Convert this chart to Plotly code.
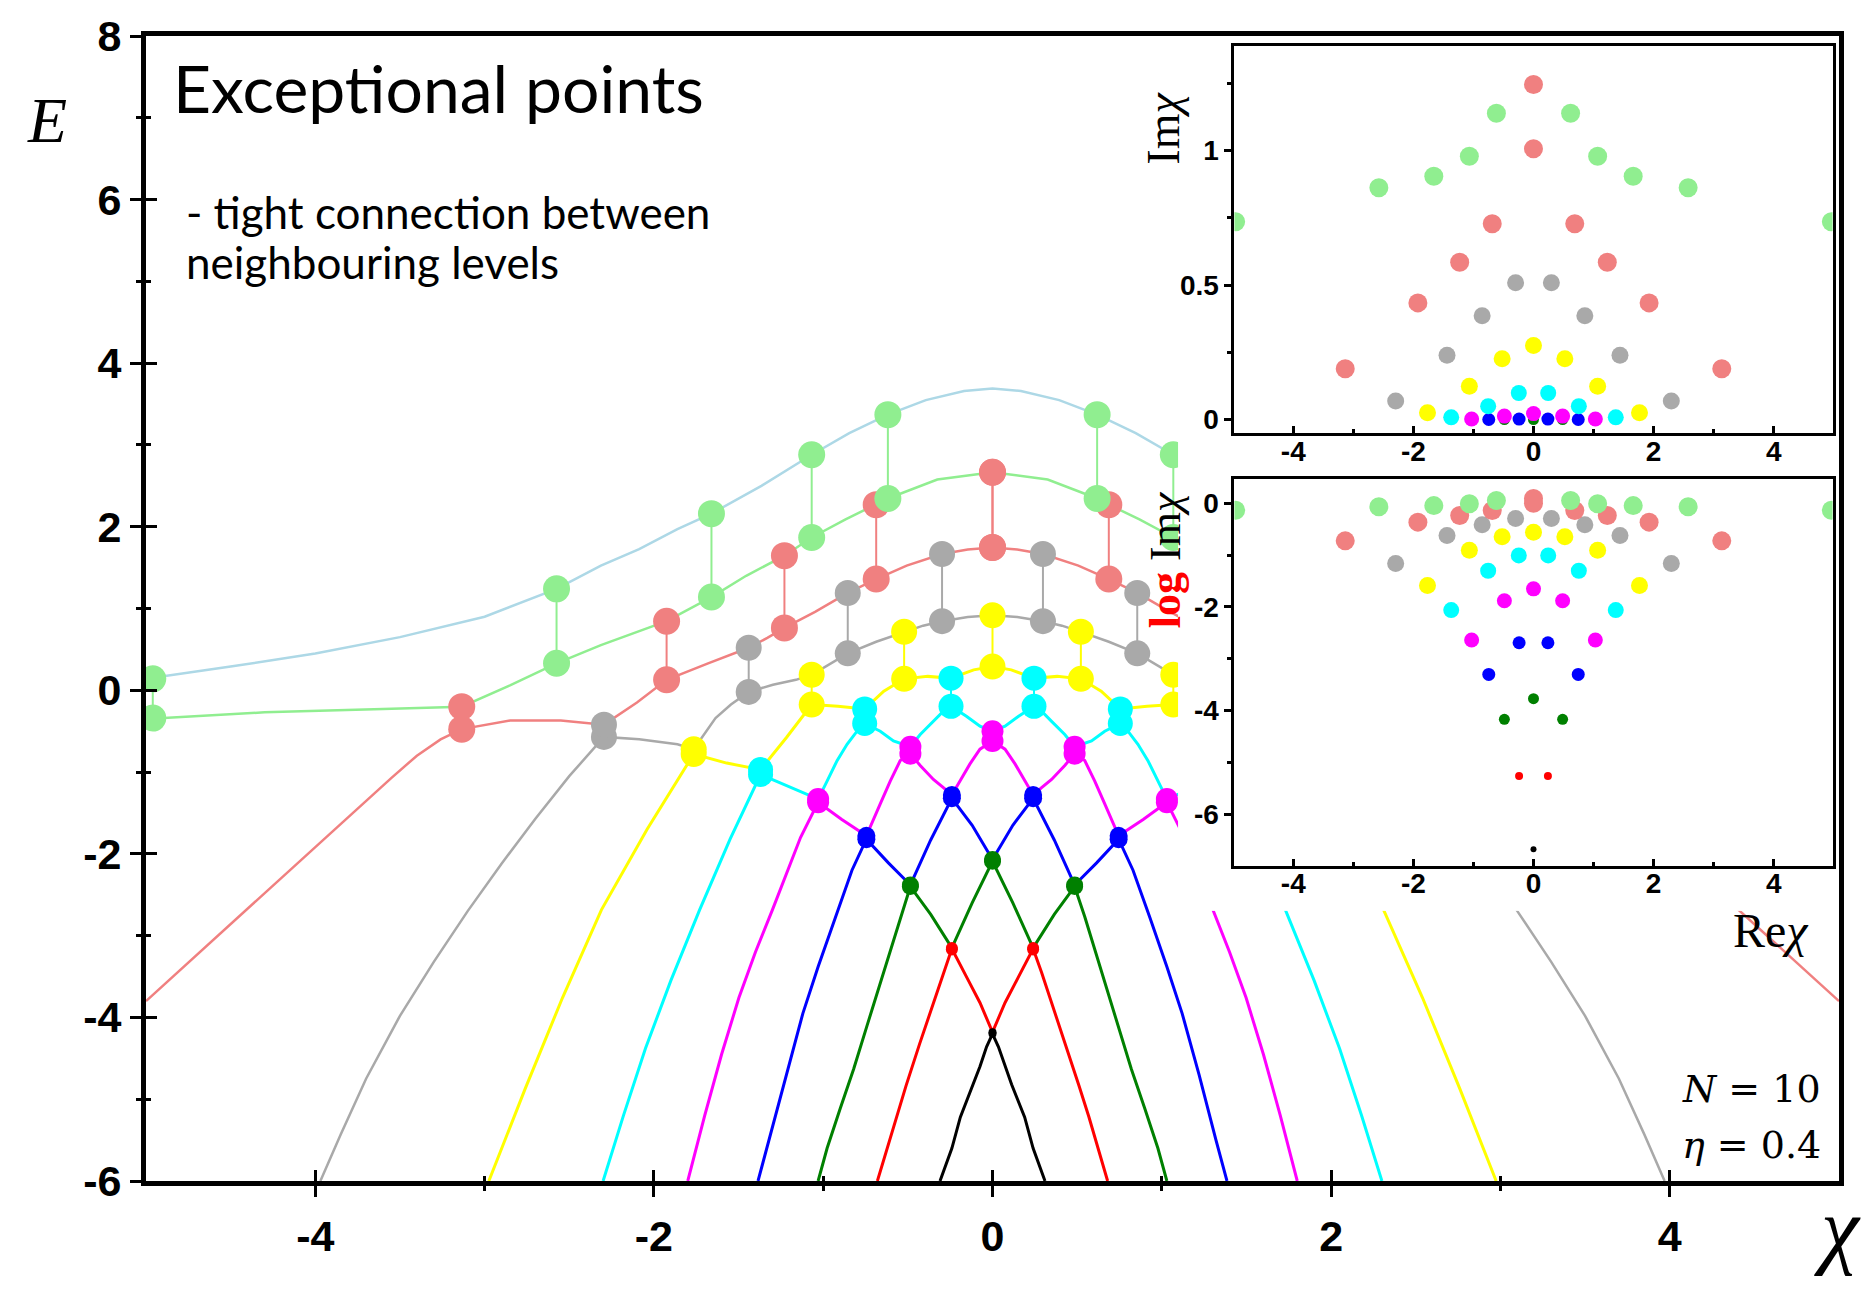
import plotly.graph_objects as go

# ---------------------------------------------------------------
# Spectrum E(chi) for N = 10, eta = 0.4 : eleven levels, lowest first
# ---------------------------------------------------------------
LEVEL_COLORS = ["#000000", "#ff0000", "#008000", "#0000ff", "#ff00ff", "#00ffff",
                "#ffff00", "#a9a9a9", "#f08080", "#90ee90", "#add8e6"]
LEVEL_WIDTH = [3, 3, 3, 3, 3, 3, 3, 2.5, 2.5, 2.5, 2.5]

chi_0 = [-0.31, -0.24, -0.19, -0.113, -0.074, -0.035, 0.0, 0.035, 0.074, 0.113, 0.19, 0.24, 0.31]
e_0 = [-6.0, -5.6, -5.22, -4.82, -4.6, -4.36, -4.2, -4.36, -4.6, -4.82, -5.22, -5.6, -6.0]

chi_1 = [-0.68, -0.623, -0.57, -0.51, -0.43, -0.35, -0.29, -0.24, -0.152, -0.074, 0.0,
         0.074, 0.152, 0.24, 0.29, 0.35, 0.43, 0.51, 0.57, 0.623, 0.68]
e_1 = [-6.0, -5.6, -5.22, -4.83, -4.32, -3.82, -3.45, -3.16, -3.51, -3.82, -4.18,
       -3.82, -3.51, -3.16, -3.45, -3.82, -4.32, -4.83, -5.22, -5.6, -6.0]

chi_2 = [-1.03, -0.977, -0.899, -0.82, -0.741, -0.663, -0.604, -0.545, -0.485, -0.365, -0.24, -0.12, 0.0,
         0.12, 0.24, 0.365, 0.485, 0.545, 0.604, 0.663, 0.741, 0.82, 0.899, 0.977, 1.03]
e_2 = [-6.0, -5.6, -5.11, -4.63, -4.10, -3.58, -3.17, -2.77, -2.40, -2.74, -3.15, -2.60, -2.09,
       -2.60, -3.15, -2.74, -2.40, -2.77, -3.17, -3.58, -4.10, -4.63, -5.11, -5.6, -6.0]

chi_3 = [-1.385, -1.32, -1.22, -1.12, -1.03, -0.93, -0.83, -0.745, -0.615, -0.485, -0.365, -0.24, -0.12, 0.0,
         0.12, 0.24, 0.365, 0.485, 0.615, 0.745, 0.83, 0.93, 1.03, 1.12, 1.22, 1.32, 1.385]
e_3 = [-6.0, -5.5, -4.7, -3.95, -3.38, -2.78, -2.2, -1.82, -2.11, -2.38, -1.83, -1.32, -1.65, -2.07,
       -1.65, -1.32, -1.83, -2.38, -2.11, -1.82, -2.2, -2.78, -3.38, -3.95, -4.7, -5.5, -6.0]

chi_4 = [-1.80, -1.70, -1.60, -1.498, -1.40, -1.30, -1.134, -1.03, -0.89, -0.745, -0.663, -0.604,
         -0.545, -0.485, -0.427, -0.349, -0.29, -0.24, -0.192, -0.133, -0.074, 0.0,
         0.074, 0.133, 0.192, 0.24, 0.29, 0.349, 0.427, 0.485, 0.545,
         0.604, 0.663, 0.745, 0.89, 1.03, 1.134, 1.30, 1.40, 1.498, 1.60, 1.70, 1.80]
e_4 = [-6.0, -5.2, -4.45, -3.76, -3.2, -2.685, -1.80, -1.37, -1.58, -1.78, -1.39, -1.11,
       -0.86, -0.775, -0.92, -1.09, -1.19, -1.28, -1.11, -0.90, -0.72, -0.62,
       -0.72, -0.90, -1.11, -1.28, -1.19, -1.09, -0.92, -0.775, -0.86,
       -1.11, -1.39, -1.78, -1.58, -1.37, -1.80, -2.685, -3.2, -3.76, -4.45, -5.2, -6.0]

chi_5 = [-2.30, -2.18, -2.05, -1.90, -1.73, -1.55, -1.37, -1.2, -1.03, -0.977, -0.918, -0.859, -0.80,
         -0.755, -0.663, -0.585, -0.485, -0.427, -0.349, -0.29, -0.245, -0.152, -0.074, 0.0,
         0.074, 0.152, 0.245, 0.29, 0.349, 0.427, 0.485, 0.585, 0.663, 0.755,
         0.80, 0.859, 0.918, 0.977, 1.03, 1.2, 1.37, 1.55, 1.73, 1.90, 2.05, 2.18, 2.30]
e_5 = [-6.0, -5.2, -4.38, -3.55, -2.685, -1.82, -1.03, -1.18, -1.33, -1.11, -0.86, -0.66, -0.50,
       -0.406, -0.50, -0.62, -0.69, -0.54, -0.38, -0.256, -0.196, -0.32, -0.44, -0.50,
       -0.44, -0.32, -0.196, -0.256, -0.38, -0.54, -0.69, -0.62, -0.50, -0.406,
       -0.50, -0.66, -0.86, -1.11, -1.33, -1.18, -1.03, -1.82, -2.685, -3.55, -4.38, -5.2, -6.0]

chi_6 = [-2.975, -2.76, -2.54, -2.31, -2.04, -1.765, -1.57, -1.37, -1.218, -1.068, -0.913, -0.755,
         -0.642, -0.522, -0.382, -0.245, -0.111, 0.0,
         0.111, 0.245, 0.382, 0.522, 0.642, 0.755, 0.913, 1.068, 1.218, 1.37, 1.57, 1.765,
         2.04, 2.31, 2.54, 2.76, 2.975]
e_6 = [-6.0, -4.87, -3.76, -2.685, -1.70, -0.78, -0.89, -0.97, -0.58, -0.175, -0.196, -0.228,
       -0.01, 0.14, 0.17, 0.148, 0.25, 0.29,
       0.25, 0.148, 0.17, 0.14, -0.01, -0.228, -0.196, -0.175, -0.58, -0.97, -0.89, -0.78,
       -1.70, -2.685, -3.76, -4.87, -6.0]

chi_7 = [-3.97, -3.85, -3.7, -3.5, -3.3, -3.1, -2.9, -2.7, -2.5, -2.295, -2.087, -1.861,
         -1.765, -1.636, -1.545, -1.44, -1.297, -1.161, -1.068, -0.96, -0.855, -0.687, -0.522,
         -0.41, -0.298, -0.146, 0.0, 0.146, 0.298, 0.41, 0.522, 0.687, 0.855, 0.96, 1.068,
         1.161, 1.297, 1.44, 1.545, 1.636, 1.765, 1.861, 2.087, 2.295, 2.5, 2.7, 2.9, 3.1,
         3.3, 3.5, 3.7, 3.85, 3.97]
e_7 = [-6.0, -5.43, -4.75, -3.98, -3.32, -2.7, -2.12, -1.57, -1.05, -0.57, -0.60, -0.66,
       -0.72, -0.34, -0.175, -0.02, 0.068, 0.128, 0.19, 0.32, 0.452, 0.593, 0.715,
       0.79, 0.845, 0.897, 0.918, 0.897, 0.845, 0.79, 0.715, 0.593, 0.452, 0.32, 0.19,
       0.128, 0.068, -0.02, -0.175, -0.34, -0.72, -0.66, -0.60, -0.57, -1.05, -1.57, -2.12, -2.7,
       -3.32, -3.98, -4.75, -5.43, -6.0]

chi_8 = [-5.0, -4.5, -4.0, -3.75, -3.55, -3.4, -3.26, -3.135, -2.85, -2.55, -2.295, -2.1, -1.925,
         -1.68, -1.44, -1.33, -1.229, -1.048, -0.855, -0.687, -0.507, -0.298, -0.146, 0.0,
         0.146, 0.298, 0.507, 0.687, 0.855, 1.048, 1.229, 1.33, 1.44, 1.68, 1.925, 2.1,
         2.295, 2.55, 2.85, 3.135, 3.26, 3.4, 3.55, 3.75, 4.0, 4.5, 5.0]
e_8 = [-3.80, -2.86, -1.92, -1.44, -1.07, -0.80, -0.60, -0.475, -0.37, -0.37, -0.42, -0.15, 0.128,
       0.33, 0.52, 0.64, 0.763, 0.958, 1.19, 1.36, 1.525, 1.666, 1.72, 1.747,
       1.72, 1.666, 1.525, 1.36, 1.19, 0.958, 0.763, 0.64, 0.52, 0.33, 0.128, -0.15,
       -0.42, -0.37, -0.37, -0.475, -0.60, -0.80, -1.07, -1.44, -1.92, -2.86, -3.80]

chi_9 = [-5.0, -4.3, -3.6, -3.135, -2.85, -2.575, -2.313, -1.925, -1.66, -1.455, -1.229, -1.068,
         -0.868, -0.687, -0.618, -0.326, 0.0, 0.326, 0.618, 0.687, 0.868, 1.068, 1.229, 1.455,
         1.66, 1.925, 2.313, 2.575, 2.85, 3.135, 3.6, 4.3, 5.0]
e_9 = [-0.35, -0.27, -0.23, -0.20, 0.06, 0.33, 0.553, 0.845, 1.14, 1.40, 1.646, 1.868,
       2.09, 2.27, 2.345, 2.577, 2.666, 2.577, 2.345, 2.27, 2.09, 1.868, 1.646, 1.40,
       1.14, 0.845, 0.553, 0.33, 0.06, -0.20, -0.23, -0.27, -0.35]

chi_10 = [-5.0, -4.5, -4.0, -3.5, -3.0, -2.575, -2.313, -2.087, -1.861, -1.66, -1.365, -1.068,
          -0.846, -0.618, -0.394, -0.168, 0.0, 0.168, 0.394, 0.618, 0.846, 1.068, 1.365, 1.66,
          1.861, 2.087, 2.313, 2.575, 3.0, 3.5, 4.0, 4.5, 5.0]
e_10 = [0.14, 0.29, 0.45, 0.65, 0.90, 1.24, 1.525, 1.727, 1.97, 2.16, 2.50, 2.88,
        3.143, 3.37, 3.548, 3.66, 3.69, 3.66, 3.548, 3.37, 3.143, 2.88, 2.50, 2.16,
        1.97, 1.727, 1.525, 1.24, 0.90, 0.65, 0.45, 0.29, 0.14]

LEVEL_CHI = [chi_0, chi_1, chi_2, chi_3, chi_4, chi_5, chi_6, chi_7, chi_8, chi_9, chi_10]
LEVEL_E = [e_0, e_1, e_2, e_3, e_4, e_5, e_6, e_7, e_8, e_9, e_10]

# ---------------------------------------------------------------
# Exceptional points: lower level index, Re chi, Im chi and the two
# real-chi energies (lower / upper level) they connect
# ---------------------------------------------------------------
ep_level = [0,
            1, 1,
            2, 2, 2,
            3, 3, 3, 3,
            4, 4, 4, 4, 4,
            5, 5, 5, 5, 5, 5,
            6, 6, 6, 6, 6, 6, 6,
            7, 7, 7, 7, 7, 7, 7, 7,
            8, 8, 8, 8, 8, 8, 8, 8, 8, 8,
            9, 9, 9, 9, 9, 9, 9, 9, 9, 9]
ep_re = [0.0,
         -0.24, 0.24,
         -0.485, 0.0, 0.485,
         -0.745, -0.24, 0.24, 0.745,
         -1.03, -0.485, 0.0, 0.485, 1.03,
         -1.37, -0.755, -0.245, 0.245, 0.755, 1.37,
         -1.765, -1.068, -0.522, 0.0, 0.522, 1.068, 1.765,
         -2.295, -1.44, -0.855, -0.298, 0.298, 0.855, 1.44, 2.295,
         -3.135, -1.925, -1.229, -0.687, 0.0, 0.0, 0.687, 1.229, 1.925, 3.135,
         -4.96, -2.575, -1.66, -1.068, -0.618, 0.618, 1.068, 1.66, 2.575, 4.96]
ep_im = [2.1e-7,
         5.5e-6, 5.5e-6,
         6.8e-5, 1.7e-4, 6.8e-5,
         5.0e-4, 2.04e-3, 2.04e-3, 5.0e-4,
         2.3e-3, 0.0132, 0.0224, 0.0132, 2.3e-3,
         0.0087, 0.050, 0.099, 0.099, 0.050, 0.0087,
         0.026, 0.124, 0.226, 0.276, 0.226, 0.124, 0.026,
         0.069, 0.239, 0.386, 0.509, 0.509, 0.386, 0.239, 0.069,
         0.189, 0.434, 0.585, 0.728, 1.007, 1.246, 0.728, 0.585, 0.434, 0.189,
         0.736, 0.862, 0.905, 0.979, 1.139, 1.139, 0.979, 0.905, 0.862, 0.736]
ep_e_low = [-4.20,
            -3.17, -3.17,
            -2.40, -2.09, -2.40,
            -1.82, -1.32, -1.32, -1.82,
            -1.37, -0.775, -0.62, -0.775, -1.37,
            -1.03, -0.406, -0.196, -0.196, -0.406, -1.03,
            -0.78, -0.175, 0.14, 0.29, 0.14, -0.175, -0.78,
            -0.57, -0.02, 0.452, 0.845, 0.845, 0.452, -0.02, -0.57,
            -0.475, 0.128, 0.763, 1.36, 1.747, 1.747, 1.36, 0.763, 0.128, -0.475,
            -0.34, 0.33, 1.14, 1.868, 2.345, 2.345, 1.868, 1.14, 0.33, -0.34]
ep_e_high = [-4.18,
             -3.15, -3.15,
             -2.38, -2.07, -2.38,
             -1.78, -1.28, -1.28, -1.78,
             -1.33, -0.69, -0.50, -0.69, -1.33,
             -0.97, -0.228, 0.148, 0.148, -0.228, -0.97,
             -0.72, 0.19, 0.715, 0.918, 0.715, 0.19, -0.72,
             -0.42, 0.52, 1.19, 1.666, 1.666, 1.19, 0.52, -0.42,
             -0.20, 0.845, 1.646, 2.27, 2.666, 2.666, 2.27, 1.646, 0.845, -0.20,
             0.14, 1.24, 2.16, 2.88, 3.37, 3.37, 2.88, 2.16, 1.24, 0.14]

MAIN_MARKER = [8, 12, 17, 18, 22, 25, 26, 26, 27, 27]
INSET_MARKER = [6, 8, 11, 13, 15, 16, 17, 17, 19, 19]

# axis ticks
E_TICKS = [-6, -4, -2, 0, 2, 4, 6, 8]
E_TICKTEXT = ["-6", "-4", "-2", "0", "2", "4", "6", "8"]
E_MINOR = [-5, -3, -1, 1, 3, 5, 7]
CHI_TICKS = [-4, -2, 0, 2, 4]
CHI_TICKTEXT = ["-4", "-2", "0", "2", "4"]
CHI_MINOR = [-3, -1, 1, 3]
IM_TICKS = [0, 0.5, 1]
IM_TICKTEXT = ["0", "0.5", "1"]
IM_MINOR = [0.25, 0.75, 1.25]
LOGIM_TICKS = [1, 1e-2, 1e-4, 1e-6]
LOGIM_TICKTEXT = ["0", "-2", "-4", "-6"]
LOGIM_MINOR = [1e-1, 1e-3, 1e-5]

fig = go.Figure()

# energy levels
for k in range(len(LEVEL_CHI)):
    fig.add_trace(go.Scatter(x=LEVEL_CHI[k], y=LEVEL_E[k], mode="lines",
                             line=dict(color=LEVEL_COLORS[k], width=LEVEL_WIDTH[k]),
                             xaxis="x", yaxis="y", hoverinfo="skip", showlegend=False))

# exceptional points on the real axis, joined between the two levels
for k in range(10):
    xs, ys = [], []
    for i in range(len(ep_re)):
        if ep_level[i] == k:
            xs += [ep_re[i], ep_re[i], None]
            ys += [ep_e_low[i], ep_e_high[i], None]
    fig.add_trace(go.Scatter(x=xs, y=ys, mode="lines+markers",
                             line=dict(color=LEVEL_COLORS[k], width=2),
                             marker=dict(color=LEVEL_COLORS[k], size=MAIN_MARKER[k]),
                             xaxis="x", yaxis="y", hoverinfo="skip", showlegend=False))

# white panel behind the insets
fig.add_trace(go.Scatter(x=[None], y=[None], xaxis="x2", yaxis="y2", showlegend=False))

# insets: Im chi and log Im chi against Re chi
for k in range(10):
    xs = [ep_re[i] for i in range(len(ep_re)) if ep_level[i] == k]
    ims = [ep_im[i] for i in range(len(ep_re)) if ep_level[i] == k]
    fig.add_trace(go.Scatter(x=xs, y=ims, mode="markers",
                             marker=dict(color=LEVEL_COLORS[k], size=INSET_MARKER[k]),
                             xaxis="x3", yaxis="y3", hoverinfo="skip", showlegend=False))
    fig.add_trace(go.Scatter(x=xs, y=ims, mode="markers",
                             marker=dict(color=LEVEL_COLORS[k], size=INSET_MARKER[k]),
                             xaxis="x4", yaxis="y4", hoverinfo="skip", showlegend=False))

# companion axes carrying the inner halves of the main ticks
fig.add_trace(go.Scatter(x=[None], y=[None], xaxis="x5", yaxis="y", showlegend=False))
fig.add_trace(go.Scatter(x=[None], y=[None], xaxis="x", yaxis="y5", showlegend=False))

BIG_TICK = dict(family="Liberation Sans, Arial, sans-serif", size=43, color="black", weight="bold")
SMALL_TICK = dict(family="Liberation Sans, Arial, sans-serif", size=28, color="black", weight="bold")

main_common = dict(showline=True, linewidth=5, linecolor="black", mirror=True,
                   ticks="outside", ticklen=11, tickwidth=3, tickcolor="black",
                   showgrid=False, zeroline=False, tickfont=BIG_TICK)
inner_common = dict(showline=False, ticks="inside", ticklen=11, tickwidth=3, tickcolor="black",
                    showticklabels=False, showgrid=False, zeroline=False)
inset_common = dict(showline=True, linewidth=3, linecolor="black", mirror=True,
                    ticklen=7, tickwidth=3, tickcolor="black",
                    showgrid=False, zeroline=False, tickfont=SMALL_TICK)
hidden = dict(showline=False, showticklabels=False, ticks="", showgrid=False, zeroline=False)

X_RANGE = [-5, 5]
Y_RANGE = [-6, 8]

fig.update_layout(
    width=1863, height=1298,
    margin=dict(l=146, r=24, t=32, b=117),
    paper_bgcolor="white", plot_bgcolor="white",
    showlegend=False,
    xaxis=dict(domain=[0, 1], range=X_RANGE, anchor="y", tickvals=CHI_TICKS, ticktext=CHI_TICKTEXT,
               minor=dict(tickvals=CHI_MINOR, ticks="outside", ticklen=5, tickwidth=3, tickcolor="black"),
               ticklabelstandoff=2, **main_common),
    yaxis=dict(domain=[0, 1], range=Y_RANGE, anchor="x", tickvals=E_TICKS, ticktext=E_TICKTEXT,
               minor=dict(tickvals=E_MINOR, ticks="outside", ticklen=5, tickwidth=3, tickcolor="black"),
               **main_common),
    xaxis5=dict(overlaying="x", anchor="y", side="bottom", range=X_RANGE, tickvals=CHI_TICKS,
                minor=dict(tickvals=CHI_MINOR, ticks="inside", ticklen=5, tickwidth=3, tickcolor="black"),
                **inner_common),
    yaxis5=dict(overlaying="y", anchor="x", side="left", range=Y_RANGE, tickvals=E_TICKS,
                minor=dict(tickvals=E_MINOR, ticks="inside", ticklen=5, tickwidth=3, tickcolor="black"),
                **inner_common),
    xaxis2=dict(domain=[0.6096, 1.0], anchor="y2", range=[0, 1], **hidden),
    yaxis2=dict(domain=[0.2359, 1.0], anchor="x2", range=[0, 1], **hidden),
    xaxis3=dict(domain=[0.6429, 0.9962], anchor="y3", range=[-4.98, 4.98],
                tickvals=CHI_TICKS, ticktext=CHI_TICKTEXT, ticks="inside", ticklabelstandoff=-9,
                minor=dict(tickvals=CHI_MINOR, ticks="inside", ticklen=4, tickwidth=3, tickcolor="black"),
                **inset_common),
    yaxis3=dict(domain=[0.6532, 0.9917], anchor="x3", range=[-0.05, 1.391],
                tickvals=IM_TICKS, ticktext=IM_TICKTEXT, ticks="outside",
                minor=dict(tickvals=IM_MINOR, ticks="outside", ticklen=4, tickwidth=3, tickcolor="black"),
                **inset_common),
    xaxis4=dict(domain=[0.6429, 0.9962], anchor="y4", range=[-4.98, 4.98],
                tickvals=CHI_TICKS, ticktext=CHI_TICKTEXT, ticks="inside", ticklabelstandoff=-9,
                minor=dict(tickvals=CHI_MINOR, ticks="inside", ticklen=4, tickwidth=3, tickcolor="black"),
                **inset_common),
    yaxis4=dict(domain=[0.2755, 0.6131], anchor="x4", type="log", range=[-6.99, 0.47],
                tickvals=LOGIM_TICKS, ticktext=LOGIM_TICKTEXT, ticks="outside",
                minor=dict(tickvals=LOGIM_MINOR, ticks="outside", ticklen=4, tickwidth=3, tickcolor="black"),
                **inset_common),
)

SANS = "Lato, Open Sans, sans-serif"
SERIF = "Liberation Serif, DejaVu Serif, serif"
MATH = "DejaVu Serif, Liberation Serif, serif"

annotations = [
    dict(text="Exceptional points", x=0.0147, y=0.9547, xanchor="left", yanchor="middle",
         font=dict(family=SANS, size=66, color="black")),
    dict(text="- tight connection between", x=0.0225, y=0.8465, xanchor="left", yanchor="middle",
         font=dict(family=SANS, size=44, color="black")),
    dict(text="neighbouring levels", x=0.0225, y=0.8022, xanchor="left", yanchor="middle",
         font=dict(family=SANS, size=44, color="black")),
    dict(text="<i>E</i>", x=-0.0585, y=0.926, xanchor="center", yanchor="middle",
         font=dict(family=SERIF, size=64, color="black")),
    dict(text="<i>χ</i>", x=0.9994, y=-0.041, xanchor="center", yanchor="middle",
         font=dict(family=SERIF, size=86, color="black")),
    dict(text="<i>N</i> = 10", x=0.9906, y=0.0801, xanchor="right", yanchor="middle",
         font=dict(family=MATH, size=38, color="black")),
    dict(text="<i>η</i> = 0.4", x=0.9906, y=0.0313, xanchor="right", yanchor="middle",
         font=dict(family=MATH, size=38, color="black")),
    dict(text="Im<i>χ</i>", x=0.6013, y=0.9191, xanchor="center", yanchor="middle", textangle=-90,
         font=dict(family=SERIF, size=46, color="black")),
    dict(text="<b><span style='color:#ff0000'>log</span></b> Im<i>χ</i>", x=0.6019, y=0.5422,
         xanchor="center", yanchor="middle", textangle=-90,
         font=dict(family=SERIF, size=44, color="black")),
    dict(text="Re<i>χ</i>", x=0.9598, y=0.2185, xanchor="center", yanchor="middle",
         font=dict(family=SERIF, size=48, color="black")),
]
for a in annotations:
    a.update(xref="paper", yref="paper", showarrow=False)
fig.update_layout(annotations=annotations)

fig.write_html("out.html")
